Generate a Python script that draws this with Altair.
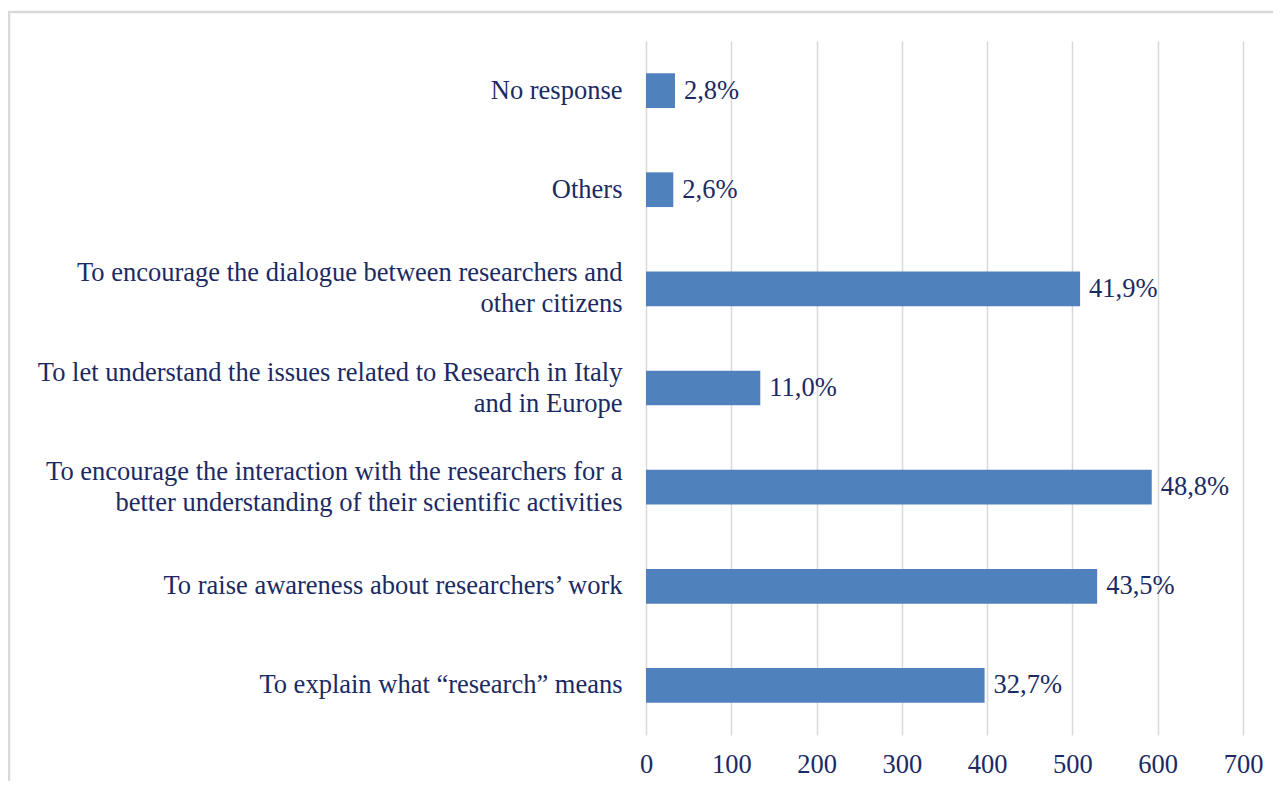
import altair as alt
import pandas as pd

categories = [
    "No response",
    "Others",
    "To encourage the dialogue between researchers and\nother citizens",
    "To let understand the issues related to Research in Italy\nand in Europe",
    "To encourage the interaction with the researchers for a\nbetter understanding of their scientific activities",
    "To raise awareness about researchers\u2019 work",
    "To explain what \u201cresearch\u201d means",
]
counts = [34, 32, 509, 134, 593, 529, 397]
percents = [2.8, 2.6, 41.9, 11.0, 48.8, 43.5, 32.7]
x_ticks = [0, 100, 200, 300, 400, 500, 600, 700]

df = pd.DataFrame({"cat": categories, "count": counts, "pct": percents})

TEXT = "#1B2A63"
FONT = "Liberation Serif"
FS = 26.5
LH = 31

y_enc = alt.Y(
    "cat:N",
    sort=None,
    title=None,
    scale=alt.Scale(paddingInner=0.65, paddingOuter=0.325),
    axis=alt.Axis(
        domain=False,
        ticks=False,
        grid=False,
        labelAlign="right",
        labelBaseline="middle",
        labelPadding=24,
        labelLimit=800,
        labelFont=FONT,
        labelFontSize=FS,
        labelColor=TEXT,
        labelLineHeight=LH,
        labelOffset={"expr": "length(split(datum.label, '\\n')) > 1 ? -15.5 : 0"},
        labelExpr="split(datum.label, '\\n')",
    ),
)

x_enc = alt.X(
    "count:Q",
    title=None,
    scale=alt.Scale(domain=[0, 700], nice=False),
    axis=alt.Axis(
        values=x_ticks,
        domain=False,
        ticks=False,
        grid=True,
        gridColor="#D9D9D9",
        gridWidth=1.5,
        labelFont=FONT,
        labelFontSize=FS,
        labelColor=TEXT,
        labelPadding=16,
        labelFlush=False,
        labelOverlap=False,
    ),
)

bars = alt.Chart(df).mark_bar(color="#4F81BD").encode(x=x_enc, y=y_enc)

labels = (
    alt.Chart(df)
    .transform_calculate(
        lab="replace(format(datum.pct, '.1f'), '.', ',') + '%'"
    )
    .mark_text(
        align="left",
        baseline="middle",
        dx=9,
        font=FONT,
        fontSize=FS,
        color=TEXT,
    )
    .encode(x="count:Q", y=alt.Y("cat:N", sort=None), text="lab:N")
)

frame = (
    alt.Chart(alt.Data(values=[{"a": 1}]))
    .mark_rect(fill="transparent", stroke="#D9D9D9", strokeWidth=2.5)
    .encode(
        x=alt.value(-637),
        x2=alt.value(660),
        y=alt.value(-29),
        y2=alt.value(780),
    )
)

chart = (
    alt.layer(frame, bars, labels)
    .properties(
        width=597,
        height=694,
        autosize=alt.AutoSizeParams(type="none"),
        padding={"left": 638, "top": 33, "right": 30, "bottom": 46},
        background="white",
    )
    .configure_view(stroke=None)
)

chart.save("out.html", embed_options={"renderer": "svg", "actions": False})
